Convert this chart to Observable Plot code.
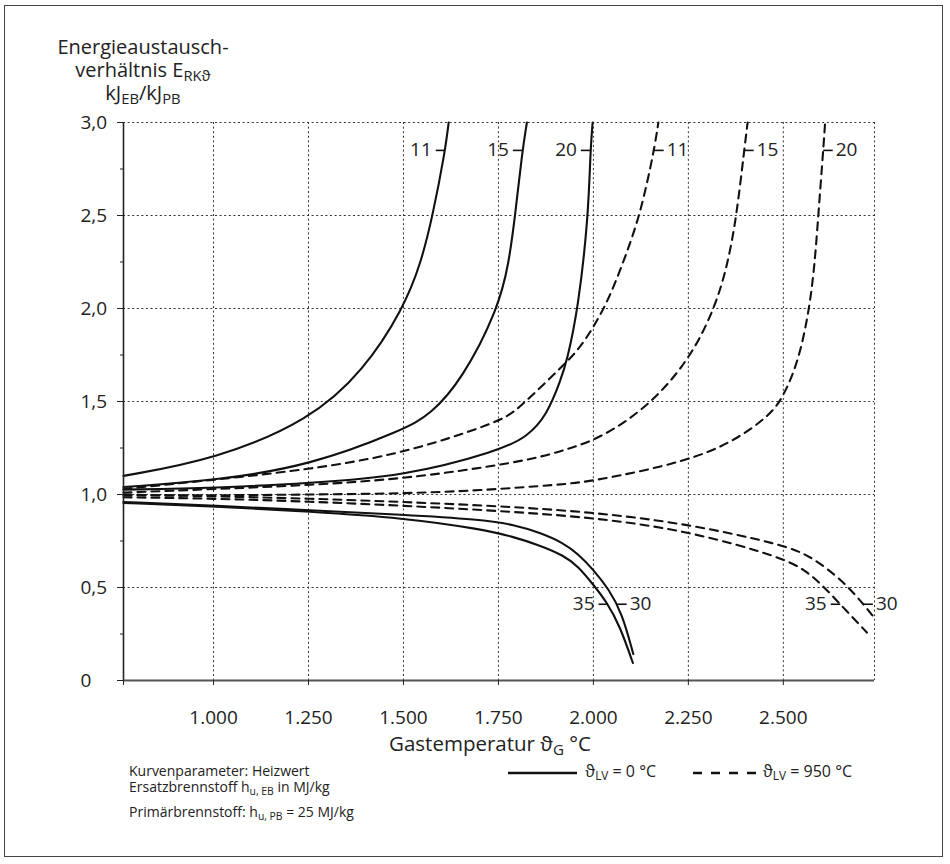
<!DOCTYPE html>
<html><head><meta charset="utf-8">
<script src="https://cdn.jsdelivr.net/npm/d3@7"></script>
<script src="https://cdn.jsdelivr.net/npm/@observablehq/plot@0.6"></script>
<style>
body{margin:0;background:#fff;}
#wrap{position:relative;width:950px;height:864px;font-family:"Open Sans",sans-serif;color:#222;overflow:hidden;}
#frame{position:absolute;left:4px;top:5px;width:939px;height:852px;border:1.5px solid #444;box-sizing:border-box;}
#plot{position:absolute;left:0;top:0;}
sub{font-size:0.74em;vertical-align:-0.28em;line-height:0;}
.ytitle{position:absolute;left:43px;top:35px;width:200px;text-align:center;font-size:20px;line-height:23px;}
.xtitle{position:absolute;left:290px;width:400px;top:731px;text-align:center;font-size:20.5px;line-height:24px;}
.note{position:absolute;left:129px;font-size:14px;line-height:15px;white-space:nowrap;}
.leg{position:absolute;top:762px;font-size:16px;line-height:18px;white-space:nowrap;}
</style></head>
<body>
<div id="wrap">
  <div id="frame"></div>
  <div id="plot"></div>
  <div class="ytitle">Energieaustausch-<br>verhältnis E<sub>RKϑ</sub><br>kJ<sub>EB</sub>/kJ<sub>PB</sub></div>
  <div class="xtitle">Gastemperatur ϑ<sub>G</sub> °C</div>
  <div class="note" style="top:763px">Kurvenparameter: Heizwert</div>
  <div class="note" style="top:779px">Ersatzbrennstoff h<sub>u, EB</sub> in MJ/kg</div>
  <div class="note" style="top:804px">Primärbrennstoff: h<sub>u, PB</sub> = 25 MJ/kg</div>
  <div class="leg" style="left:508px"><svg width="69" height="10" style="vertical-align:middle"><line x1="0" y1="5" x2="69" y2="5" stroke="#111" stroke-width="2.4"/></svg>&nbsp;&nbsp;ϑ<sub>LV</sub> = 0 °C</div>
  <div class="leg" style="left:693px"><svg width="70" height="10" style="vertical-align:middle"><line x1="0" y1="5" x2="70" y2="5" stroke="#111" stroke-width="2.4" stroke-dasharray="9,9"/></svg>ϑ<sub>LV</sub> = 950 °C</div>
</div>
<script>
// ---- data ----
const xDomain = [763, 2740];
const yDomain = [0, 3];
const xTicks = [1000, 1250, 1500, 1750, 2000, 2250, 2500];
const yTicks = [0, 0.5, 1.0, 1.5, 2.0, 2.5, 3.0];
const yMinor = [0.25, 0.75, 1.25, 1.75, 2.25, 2.75];

// ϑLV = 0 °C (solid)
const T_s11 = [763, 1007, 1254, 1395, 1500, 1547, 1577, 1610, 1619];
const V_s11 = [1.10, 1.19, 1.40, 1.665, 2.00, 2.25, 2.50, 2.85, 3.00];
const T_s15 = [763, 1007, 1254, 1500, 1570, 1654, 1750, 1778, 1794, 1813, 1825];
const V_s15 = [1.04, 1.076, 1.155, 1.348, 1.428, 1.616, 2.00, 2.25, 2.50, 2.85, 3.00];
const T_s20 = [763, 1007, 1254, 1500, 1752, 1826, 1878, 1914, 1930, 1960, 1987, 1992, 1998];
const V_s20 = [1.026, 1.035, 1.062, 1.097, 1.235, 1.31, 1.428, 1.616, 1.714, 2.00, 2.50, 2.85, 3.00];
const T_s30 = [763, 1007, 1254, 1500, 1702, 1789, 1860, 1921, 1960, 1999, 2041, 2076, 2105];
const V_s30 = [0.96, 0.94, 0.915, 0.892, 0.866, 0.839, 0.794, 0.74, 0.68, 0.598, 0.49, 0.36, 0.142];
const T_s35 = [763, 1007, 1254, 1500, 1702, 1789, 1860, 1921, 1960, 1999, 2035, 2070, 2104];
const V_s35 = [0.955, 0.936, 0.908, 0.874, 0.815, 0.773, 0.726, 0.673, 0.614, 0.517, 0.423, 0.292, 0.094];

// ϑLV = 950 °C (dashed)
const T_d11 = [763, 1007, 1254, 1500, 1752, 1798, 1926, 1965, 2031, 2079, 2123, 2160, 2171];
const V_d11 = [1.03, 1.08, 1.135, 1.219, 1.391, 1.45, 1.705, 1.786, 2.00, 2.25, 2.50, 2.85, 3.00];
const T_d15 = [763, 1007, 1254, 1500, 1702, 1841, 1934, 2018, 2140, 2250, 2320, 2355, 2377, 2397, 2406];
const V_d15 = [1.01, 1.03, 1.05, 1.085, 1.142, 1.19, 1.244, 1.303, 1.464, 1.714, 2.00, 2.25, 2.50, 2.85, 3.00];
const T_d20 = [763, 1007, 1254, 1500, 1702, 1912, 1999, 2250, 2377, 2465, 2498, 2540, 2569, 2583, 2592, 2605, 2610];
const V_d20 = [0.995, 0.995, 1.0, 1.005, 1.022, 1.053, 1.071, 1.178, 1.294, 1.428, 1.518, 1.714, 2.00, 2.25, 2.50, 2.85, 3.00];
const T_d30 = [763, 1007, 1254, 1500, 1750, 2000, 2250, 2500, 2571, 2641, 2693, 2732, 2740];
const V_d30 = [1.0, 0.99, 0.978, 0.96, 0.938, 0.905, 0.842, 0.73, 0.669, 0.562, 0.455, 0.356, 0.335];
const T_d35 = [763, 1007, 1254, 1500, 1750, 2000, 2250, 2500, 2561, 2605, 2658, 2720];
const V_d35 = [0.985, 0.978, 0.962, 0.94, 0.912, 0.877, 0.805, 0.66, 0.588, 0.508, 0.392, 0.258];

const series = [
  {hu: 11, lv: 0, T: T_s11, V: V_s11}, {hu: 15, lv: 0, T: T_s15, V: V_s15},
  {hu: 20, lv: 0, T: T_s20, V: V_s20}, {hu: 30, lv: 0, T: T_s30, V: V_s30},
  {hu: 35, lv: 0, T: T_s35, V: V_s35},
  {hu: 11, lv: 950, T: T_d11, V: V_d11}, {hu: 15, lv: 950, T: T_d15, V: V_d15},
  {hu: 20, lv: 950, T: T_d20, V: V_d20}, {hu: 30, lv: 950, T: T_d30, V: V_d30},
  {hu: 35, lv: 950, T: T_d35, V: V_d35}
];
// curve labels: which curve, at what level, on which side
const labelSpec = [
  {hu: 11, lv: 0, at: 2.85, side: -1}, {hu: 15, lv: 0, at: 2.85, side: -1}, {hu: 20, lv: 0, at: 2.85, side: -1},
  {hu: 11, lv: 950, at: 2.85, side: 1}, {hu: 15, lv: 950, at: 2.85, side: 1}, {hu: 20, lv: 950, at: 2.85, side: 1},
  {hu: 35, lv: 0, at: 0.41, side: -1}, {hu: 30, lv: 0, at: 0.41, side: 1},
  {hu: 35, lv: 950, at: 0.41, side: -1}, {hu: 30, lv: 950, at: 0.41, side: 1}
];

// ---- build ----
const rows = series.flatMap(s => s.T.map((t, i) => ({T: t, V: s.V[i], key: s.lv + "-" + s.hu, lv: s.lv})));
function crossT(s, v) {
  for (let i = 1; i < s.T.length; i++) {
    const a = s.V[i - 1], b = s.V[i];
    if ((a - v) * (b - v) <= 0 && a !== b) return s.T[i - 1] + (v - a) / (b - a) * (s.T[i] - s.T[i - 1]);
  }
  return s.T[s.T.length - 1];
}
const tickLen = 25;
const labels = labelSpec.map(l => {
  const s = series.find(d => d.hu === l.hu && d.lv === l.lv);
  const tc = crossT(s, l.at);
  return {text: String(l.hu), v: l.at, t1: tc, t2: tc + l.side * tickLen, side: l.side};
});
const fmtX = d3.formatLocale({decimal: ",", thousands: ".", grouping: [3], currency: ["", "€"]}).format(",");
const fmtY = d => d === 0 ? "0" : d.toFixed(1).replace(".", ",");
const dotted = {stroke: "#333", strokeWidth: 1, strokeDasharray: "2,2.6"};
const lineOpts = {x: "T", y: "V", z: "key", curve: "basis", stroke: "#111", strokeWidth: 2.1};

const chart = Plot.plot({
  width: 950, height: 760,
  marginTop: 122, marginLeft: 123, marginRight: 76, marginBottom: 80,
  style: {fontFamily: '"Open Sans", sans-serif', fontSize: "19px", color: "#222", background: "transparent", overflow: "visible"},
  x: {domain: xDomain, axis: null},
  y: {domain: yDomain, axis: null},
  marks: [
    Plot.ruleX([...xTicks, xDomain[1]], dotted),
    Plot.ruleY(yTicks.filter(d => d > 0), dotted),
    Plot.line(rows.filter(d => d.lv === 0), lineOpts),
    Plot.line(rows.filter(d => d.lv === 950), {...lineOpts, strokeDasharray: "8,6"}),
    Plot.ruleX([xDomain[0]], {stroke: "#222", strokeWidth: 1.6}),
    Plot.ruleY([0], {stroke: "#555", strokeWidth: 2.2}),
    Plot.axisX([xDomain[0], ...xTicks], {tickSize: 5, tickPadding: 25, tickFormat: d => d === xDomain[0] ? "" : fmtX(d), label: null, fontSize: 19}),
    Plot.axisY(yTicks, {tickSize: 6, tickFormat: () => "", label: null}),
    Plot.axisY(yMinor, {tickSize: 3, tickFormat: () => "", label: null}),
    Plot.text(yTicks, {y: d => d, text: fmtY, frameAnchor: "left", dx: -43, textAnchor: "start", fontSize: 19}),
    Plot.link(labels, {x1: "t1", x2: "t2", y1: "v", y2: "v", stroke: "#111", strokeWidth: 1.6}),
    Plot.text(labels.filter(d => d.side < 0), {x: "t2", y: "v", text: "text", textAnchor: "end", dx: -4, fontSize: 19}),
    Plot.text(labels.filter(d => d.side > 0), {x: "t2", y: "v", text: "text", textAnchor: "start", dx: 3, fontSize: 19})
  ]
});
document.getElementById("plot").appendChild(chart);
</script>
</body></html>
